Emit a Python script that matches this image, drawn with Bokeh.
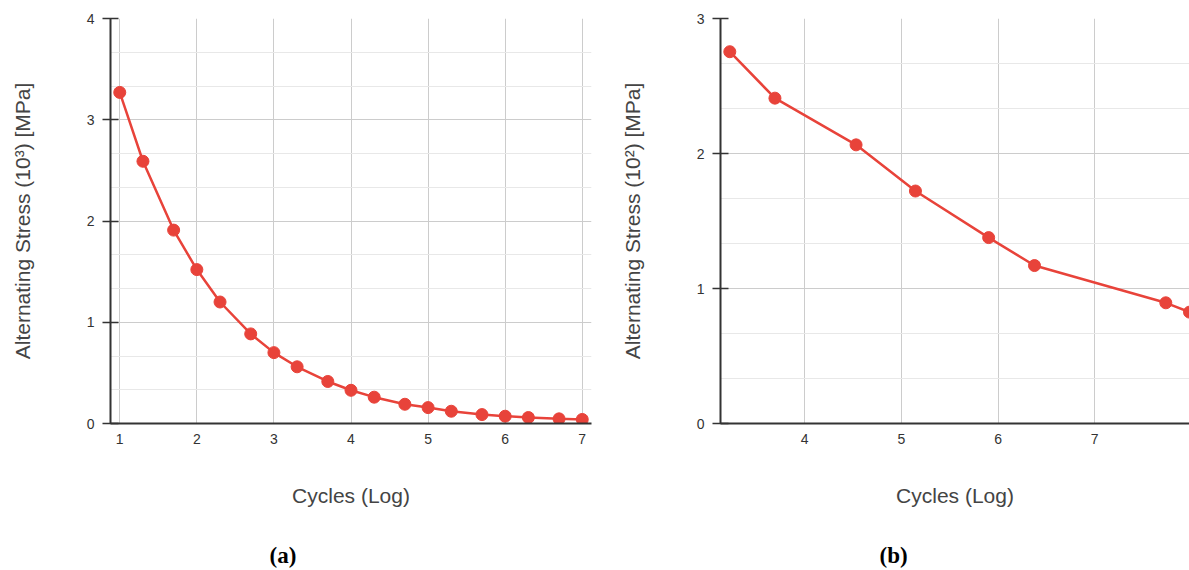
from bokeh.plotting import figure
from bokeh.layouts import row
from bokeh.models import FixedTicker, Range1d, Title
from bokeh.embed import file_html
from bokeh.resources import INLINE

# ---- data ----
a_cycles_log = [1.0, 1.301, 1.699, 2.0, 2.301, 2.699, 3.0, 3.301, 3.699, 4.0,
                4.301, 4.699, 5.0, 5.301, 5.699, 6.0, 6.301, 6.699, 7.0]
a_stress = [3.27, 2.59, 1.91, 1.52, 1.20, 0.885, 0.70, 0.56, 0.415, 0.328,
            0.26, 0.19, 0.157, 0.121, 0.088, 0.072, 0.059, 0.046, 0.040]
a_xticks = [1, 2, 3, 4, 5, 6, 7]
a_yticks = [0, 1, 2, 3, 4]

b_cycles_log = [3.226, 3.693, 4.532, 5.146, 5.903, 6.377, 7.735, 7.98]
b_stress = [2.754, 2.41, 2.064, 1.722, 1.377, 1.17, 0.894, 0.825]
b_xticks = [4, 5, 6, 7, 8]
b_yticks = [0, 1, 2, 3]

x_label = "Cycles (Log)"
a_ylabel = "Alternating Stress (10\u00b3) [MPa]"
b_ylabel = "Alternating Stress (10\u00b2) [MPa]"
captions = ["(a)", "(b)"]

RED = "#e8433a"
FONT = "Liberation Sans"


def make(xs, ys, xr, yr, xt, yt, ylabel, caption, bl, fw, br):
    p = figure(width=bl + fw + br, height=570, frame_width=fw, frame_height=405,
               min_border_left=bl, min_border_right=br, min_border_top=18,
               min_border_bottom=147, x_range=Range1d(*xr), y_range=Range1d(*yr),
               output_backend="svg", toolbar_location=None)
    p.outline_line_color = None
    p.background_fill_color = "white"
    p.border_fill_color = "white"

    p.xaxis.ticker = FixedTicker(ticks=xt)
    p.yaxis.ticker = FixedTicker(ticks=yt, minor_ticks=[v + k / 3 for v in yt[:-1] for k in (1, 2)])

    p.xgrid.grid_line_color = "#cccccc"
    p.xgrid.grid_line_width = 1
    p.ygrid.grid_line_color = "#cccccc"
    p.ygrid.minor_grid_line_color = "#e8e8e8"

    for ax in (p.xaxis[0], p.yaxis[0]):
        ax.axis_line_color = "#333333"
        ax.axis_line_width = 2
        ax.minor_tick_line_color = None
        ax.major_label_text_font = FONT
        ax.major_label_text_font_size = "14px"
        ax.major_label_text_color = "#333333"
        ax.axis_label_text_font = FONT
        ax.axis_label_text_font_size = "21px"
        ax.axis_label_text_font_style = "normal"
        ax.axis_label_text_color = "#444444"

    p.xaxis.major_tick_in = 0
    p.xaxis.major_tick_out = 0
    p.xaxis.major_label_standoff = 10
    p.xaxis.axis_label = x_label
    p.xaxis.axis_label_standoff = 37

    p.yaxis.major_tick_in = 8
    p.yaxis.major_tick_out = 8
    p.yaxis.major_tick_line_color = "#333333"
    p.yaxis.major_tick_line_width = 1.5
    p.yaxis.major_label_standoff = 8
    p.yaxis.axis_label = ylabel
    p.yaxis.axis_label_standoff = 50

    p.line(xs, ys, line_color=RED, line_width=2.5)
    p.scatter(xs, ys, size=12, fill_color=RED, line_color=RED)

    p.add_layout(Title(text=caption, align="left", offset=159, standoff=63,
                       text_font="Liberation Serif", text_font_style="bold",
                       text_font_size="23px", text_color="black"), "below")
    return p


p1 = make(a_cycles_log, a_stress, (0.88, 7.12), (0, 4), a_xticks, a_yticks,
          a_ylabel, captions[0], 110, 481, 17)
p2 = make(b_cycles_log, b_stress, (3.13, 7.98), (0, 3), b_xticks, b_yticks,
          b_ylabel, captions[1], 112, 469, 0)

layout = row(p1, p2, spacing=0)
open("out.html", "w").write(file_html(layout, INLINE))
